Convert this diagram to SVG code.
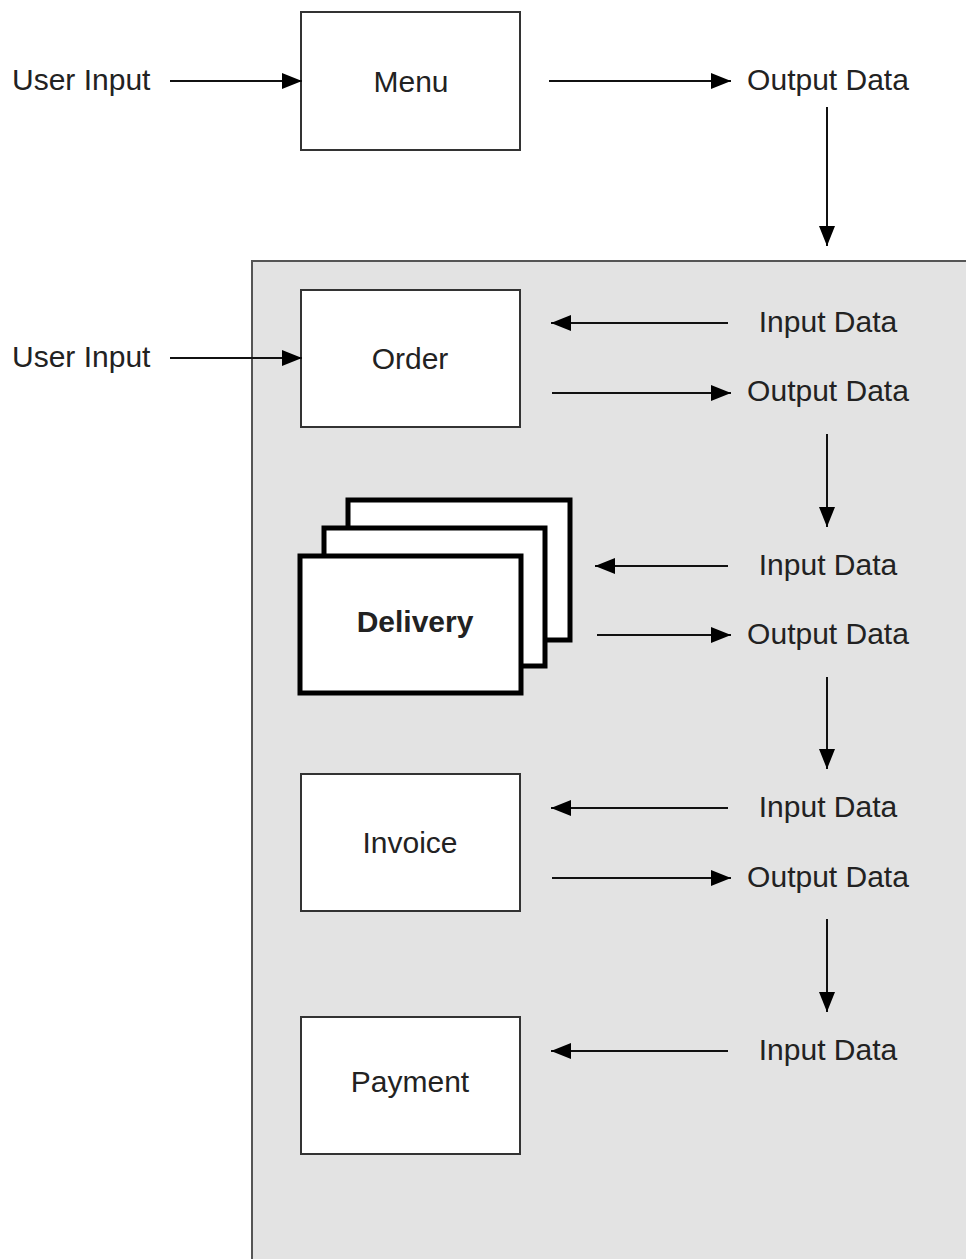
<svg xmlns="http://www.w3.org/2000/svg" width="966" height="1259" viewBox="0 0 966 1259">
<style>
.box{fill:#fff;stroke:#333;stroke-width:2}
.stack{fill:#fff;stroke:#000;stroke-width:5}
.t{font-family:"Liberation Sans",Arial,sans-serif;font-size:30px;fill:#222}
.tm{text-anchor:middle}
.b{font-weight:bold}
.ln{stroke:#111;stroke-width:2;fill:none;marker-end:url(#ah)}
</style>
<defs>
<marker id="ah" viewBox="0 0 20 16" refX="20" refY="8" markerWidth="20" markerHeight="16" markerUnits="userSpaceOnUse" orient="auto">
<path d="M0,0 L20,8 L0,16 Z" fill="#000"/>
</marker>
</defs>
<rect width="966" height="1259" fill="#fff"/>
<g id="panel"><rect x="252" y="261" width="730" height="1020" fill="#e3e3e3" stroke="#555" stroke-width="2"/></g>
<g id="menu"><rect class="box" x="301" y="12" width="219" height="138"/><text class="t tm" x="411" y="92">Menu</text></g>
<g id="order"><rect class="box" x="301" y="290" width="219" height="137"/><text class="t tm" x="410" y="369">Order</text></g>
<g id="delivery">
<rect class="stack" x="348" y="500" width="222" height="140"/>
<rect class="stack" x="324" y="528" width="221" height="138"/>
<rect class="stack" x="300" y="556" width="221" height="137"/>
<text class="t tm b" x="415" y="632">Delivery</text>
</g>
<g id="invoice"><rect class="box" x="301" y="774" width="219" height="137"/><text class="t tm" x="410" y="853">Invoice</text></g>
<g id="payment"><rect class="box" x="301" y="1017" width="219" height="137"/><text class="t tm" x="410" y="1092">Payment</text></g>
<g id="labels">
<text class="t" x="12" y="90">User Input</text>
<text class="t" x="12" y="367">User Input</text>
<text class="t tm" x="828" y="90">Output Data</text>
<text class="t tm" x="828" y="332">Input Data</text>
<text class="t tm" x="828" y="401">Output Data</text>
<text class="t tm" x="828" y="575">Input Data</text>
<text class="t tm" x="828" y="644">Output Data</text>
<text class="t tm" x="828" y="817">Input Data</text>
<text class="t tm" x="828" y="887">Output Data</text>
<text class="t tm" x="828" y="1060">Input Data</text>
</g>
<g id="connectors">
<line class="ln" x1="170" y1="81" x2="302" y2="81"/>
<line class="ln" x1="549" y1="81" x2="731" y2="81"/>
<line class="ln" x1="827" y1="107" x2="827" y2="246"/>
<line class="ln" x1="170" y1="358" x2="302" y2="358"/>
<line class="ln" x1="728" y1="323" x2="551" y2="323"/>
<line class="ln" x1="552" y1="393" x2="731" y2="393"/>
<line class="ln" x1="827" y1="434" x2="827" y2="527"/>
<line class="ln" x1="728" y1="566" x2="595" y2="566"/>
<line class="ln" x1="597" y1="635" x2="731" y2="635"/>
<line class="ln" x1="827" y1="677" x2="827" y2="769"/>
<line class="ln" x1="728" y1="808" x2="551" y2="808"/>
<line class="ln" x1="552" y1="878" x2="731" y2="878"/>
<line class="ln" x1="827" y1="919" x2="827" y2="1012"/>
<line class="ln" x1="728" y1="1051" x2="551" y2="1051"/>
</g>
</svg>
